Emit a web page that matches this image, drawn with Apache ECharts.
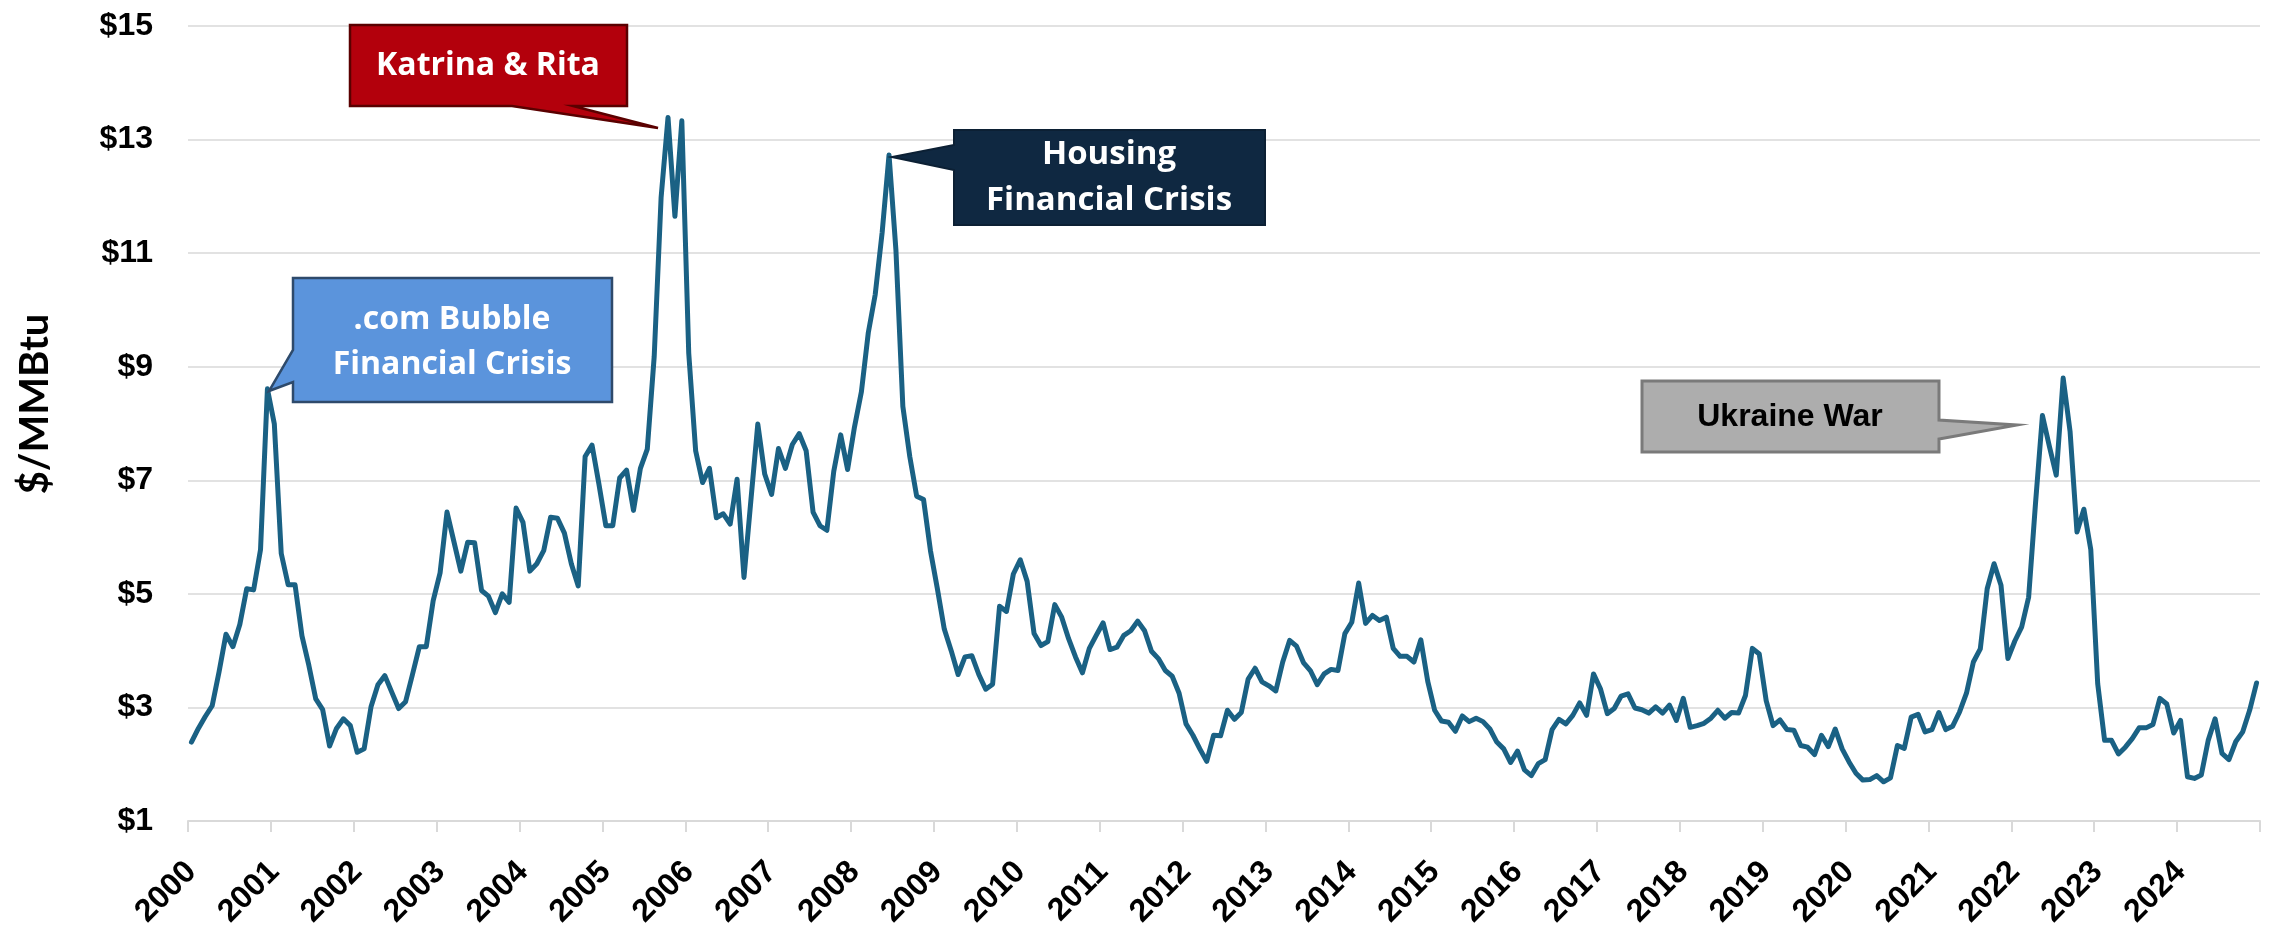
<!DOCTYPE html>
<html>
<head>
<meta charset="utf-8">
<title>Natural gas price</title>
<script src="https://cdn.jsdelivr.net/npm/echarts@6/dist/echarts.min.js"></script>
<style>
  html, body { margin: 0; padding: 0; background: #fff; }
  #chart { width: 2278px; height: 927px; }
</style>
</head>
<body>
<div id="chart"></div>
<script>
// years on the axis, one label per January
const years = ['2000', '2001', '2002', '2003', '2004', '2005', '2006', '2007', '2008', '2009',
  '2010', '2011', '2012', '2013', '2014', '2015', '2016', '2017', '2018', '2019',
  '2020', '2021', '2022', '2023', '2024']

// monthly price, $/MMBtu, Jan..Dec of each year
const p2000 = [2.39, 2.63, 2.84, 3.03, 3.63, 4.29, 4.07, 4.46, 5.09, 5.07, 5.78, 8.61]
const p2001 = [7.99, 5.71, 5.16, 5.16, 4.26, 3.74, 3.15, 2.96, 2.32, 2.63, 2.80, 2.68]
const p2002 = [2.21, 2.27, 3.01, 3.40, 3.56, 3.27, 2.98, 3.10, 3.58, 4.07, 4.07, 4.88]
const p2003 = [5.37, 6.44, 5.92, 5.40, 5.91, 5.90, 5.06, 4.96, 4.67, 5.00, 4.85, 6.51]
const p2004 = [6.26, 5.40, 5.53, 5.76, 6.35, 6.33, 6.07, 5.53, 5.14, 7.42, 7.62, 6.93]
const p2005 = [6.20, 6.20, 7.04, 7.18, 6.47, 7.21, 7.55, 9.18, 11.98, 13.39, 11.65, 13.33]
const p2006 = [9.24, 7.52, 6.96, 7.21, 6.34, 6.41, 6.23, 7.02, 5.29, 6.65, 7.99, 7.11]
const p2007 = [6.75, 7.56, 7.21, 7.63, 7.82, 7.52, 6.44, 6.20, 6.12, 7.16, 7.80, 7.19]
const p2008 = [7.94, 8.56, 9.60, 10.27, 11.36, 12.73, 11.05, 8.30, 7.42, 6.72, 6.66, 5.76]
const p2009 = [5.09, 4.38, 4.00, 3.58, 3.89, 3.91, 3.58, 3.32, 3.41, 4.78, 4.69, 5.35]
const p2010 = [5.60, 5.22, 4.30, 4.09, 4.16, 4.81, 4.59, 4.21, 3.89, 3.61, 4.04, 4.27]
const p2011 = [4.49, 4.02, 4.06, 4.27, 4.35, 4.52, 4.35, 3.99, 3.86, 3.65, 3.55, 3.25]
const p2012 = [2.71, 2.51, 2.27, 2.05, 2.51, 2.50, 2.95, 2.79, 2.91, 3.50, 3.69, 3.45]
const p2013 = [3.38, 3.29, 3.80, 4.18, 4.08, 3.79, 3.65, 3.40, 3.59, 3.67, 3.65, 4.30]
const p2014 = [4.50, 5.19, 4.48, 4.62, 4.53, 4.59, 4.04, 3.90, 3.90, 3.80, 4.19, 3.46]
const p2015 = [2.95, 2.76, 2.74, 2.58, 2.85, 2.75, 2.81, 2.75, 2.62, 2.39, 2.27, 2.03]
const p2016 = [2.23, 1.90, 1.80, 2.01, 2.08, 2.61, 2.79, 2.71, 2.86, 3.08, 2.86, 3.59]
const p2017 = [3.33, 2.89, 2.98, 3.20, 3.24, 2.99, 2.96, 2.90, 3.01, 2.90, 3.04, 2.77]
const p2018 = [3.16, 2.65, 2.68, 2.72, 2.81, 2.95, 2.81, 2.91, 2.90, 3.21, 4.04, 3.94]
const p2019 = [3.12, 2.68, 2.78, 2.61, 2.60, 2.33, 2.30, 2.17, 2.51, 2.31, 2.62, 2.27]
const p2020 = [2.04, 1.84, 1.72, 1.73, 1.80, 1.69, 1.76, 2.33, 2.28, 2.83, 2.88, 2.57]
const p2021 = [2.61, 2.91, 2.61, 2.67, 2.92, 3.25, 3.80, 4.03, 5.09, 5.53, 5.15, 3.86]
const p2022 = [4.17, 4.42, 4.94, 6.60, 8.14, 7.60, 7.09, 8.80, 7.86, 6.09, 6.49, 5.78]
const p2023 = [3.42, 2.42, 2.42, 2.18, 2.30, 2.45, 2.64, 2.64, 2.70, 3.16, 3.06, 2.55]
const p2024 = [2.77, 1.78, 1.75, 1.81, 2.42, 2.80, 2.19, 2.08, 2.40, 2.57, 2.95, 3.43]

const yTicks = { min: 1, max: 15, step: 2 }

const prices = [].concat(p2000, p2001, p2002, p2003, p2004, p2005, p2006, p2007, p2008,
  p2009, p2010, p2011, p2012, p2013, p2014, p2015, p2016, p2017, p2018, p2019, p2020,
  p2021, p2022, p2023, p2024)
const months = []
years.forEach(y => { for (let m = 1; m <= 12; m++) months.push(y + '-' + String(m).padStart(2, '0')) })

const isJan = (i) => i % 12 === 0
const tickFont = { fontFamily: 'Liberation Sans', fontWeight: 'bold', fontSize: 32, color: '#000' }
const calloutFont = 'bold 32px "Open Sans"'

// callout box = rectangle with a wedge pointing at the event
const callout = (pts, fill, stroke, lw) => ({
  type: 'polygon',
  z: 100,
  shape: { points: pts },
  style: { fill: fill, stroke: stroke, lineWidth: lw, lineJoin: 'miter' }
})
const label = (x, y, text, font, color, lh) => ({
  type: 'text',
  z: 101,
  x: x,
  y: y,
  style: { text: text, font: font, fill: color, align: 'center', verticalAlign: 'middle', lineHeight: lh }
})

const chart = echarts.init(document.getElementById('chart'))
chart.setOption({
  animation: false,
  grid: { left: 188, right: 18, top: 26, bottom: 106, containLabel: false, outerBoundsMode: 'none' },
  xAxis: {
    type: 'category',
    data: months,
    boundaryGap: true,
    axisLine: { lineStyle: { color: '#d9d9d9', width: 2 } },
    axisTick: { show: true, length: 11, interval: isJan, lineStyle: { color: '#d9d9d9', width: 2 } },
    axisLabel: Object.assign({
      interval: isJan,
      rotate: 45,
      margin: 46,
      formatter: (v) => v.slice(0, 4)
    }, tickFont),
    splitLine: { show: false }
  },
  yAxis: {
    type: 'value',
    min: yTicks.min,
    max: yTicks.max,
    interval: yTicks.step,
    axisLine: { show: false },
    axisTick: { show: false },
    axisLabel: Object.assign({ margin: 35, formatter: (v) => '$' + v }, tickFont),
    splitLine: { lineStyle: { color: '#d9d9d9', width: 1.5 } }
  },
  series: [{
    type: 'line',
    data: prices,
    showSymbol: false,
    lineStyle: { color: '#1a6184', width: 5, cap: 'round', join: 'round' }
  }],
  graphic: [
    // y axis title
    {
      type: 'text', x: 35, y: 404, rotation: Math.PI / 2,
      style: { text: '$/MMBtu', font: 'bold 40px Lato', fill: '#000', align: 'center', verticalAlign: 'middle' }
    },
    callout([[350, 25], [627, 25], [627, 106], [573, 106], [658, 128], [512, 106], [350, 106]],
      '#b3000c', '#5a0000', 2.5),
    label(488, 66, 'Katrina & Rita', calloutFont, '#fff', 40),
    callout([[293, 278], [612, 278], [612, 402], [293, 402], [293, 382], [269, 391], [293, 350]],
      '#5b94dc', '#2e4a6b', 2.5),
    label(452, 342, '.com Bubble\nFinancial Crisis', calloutFont, '#fff', 45),
    callout([[954, 130], [1265, 130], [1265, 225], [954, 225], [954, 170], [892, 157], [954, 145]],
      '#0f2841', '#0c2034', 2),
    label(1109, 178, 'Housing\nFinancial Crisis', 'bold 33px "Open Sans"', '#fff', 46),
    callout([[1642, 381], [1939, 381], [1939, 420], [2017, 425], [1939, 439], [1939, 452], [1642, 452]],
      '#adadad', '#7a7a7a', 3),
    label(1790, 417, 'Ukraine War', 'bold 32px "Liberation Sans"', '#000', 36)
  ]
})
</script>
</body>
</html>
